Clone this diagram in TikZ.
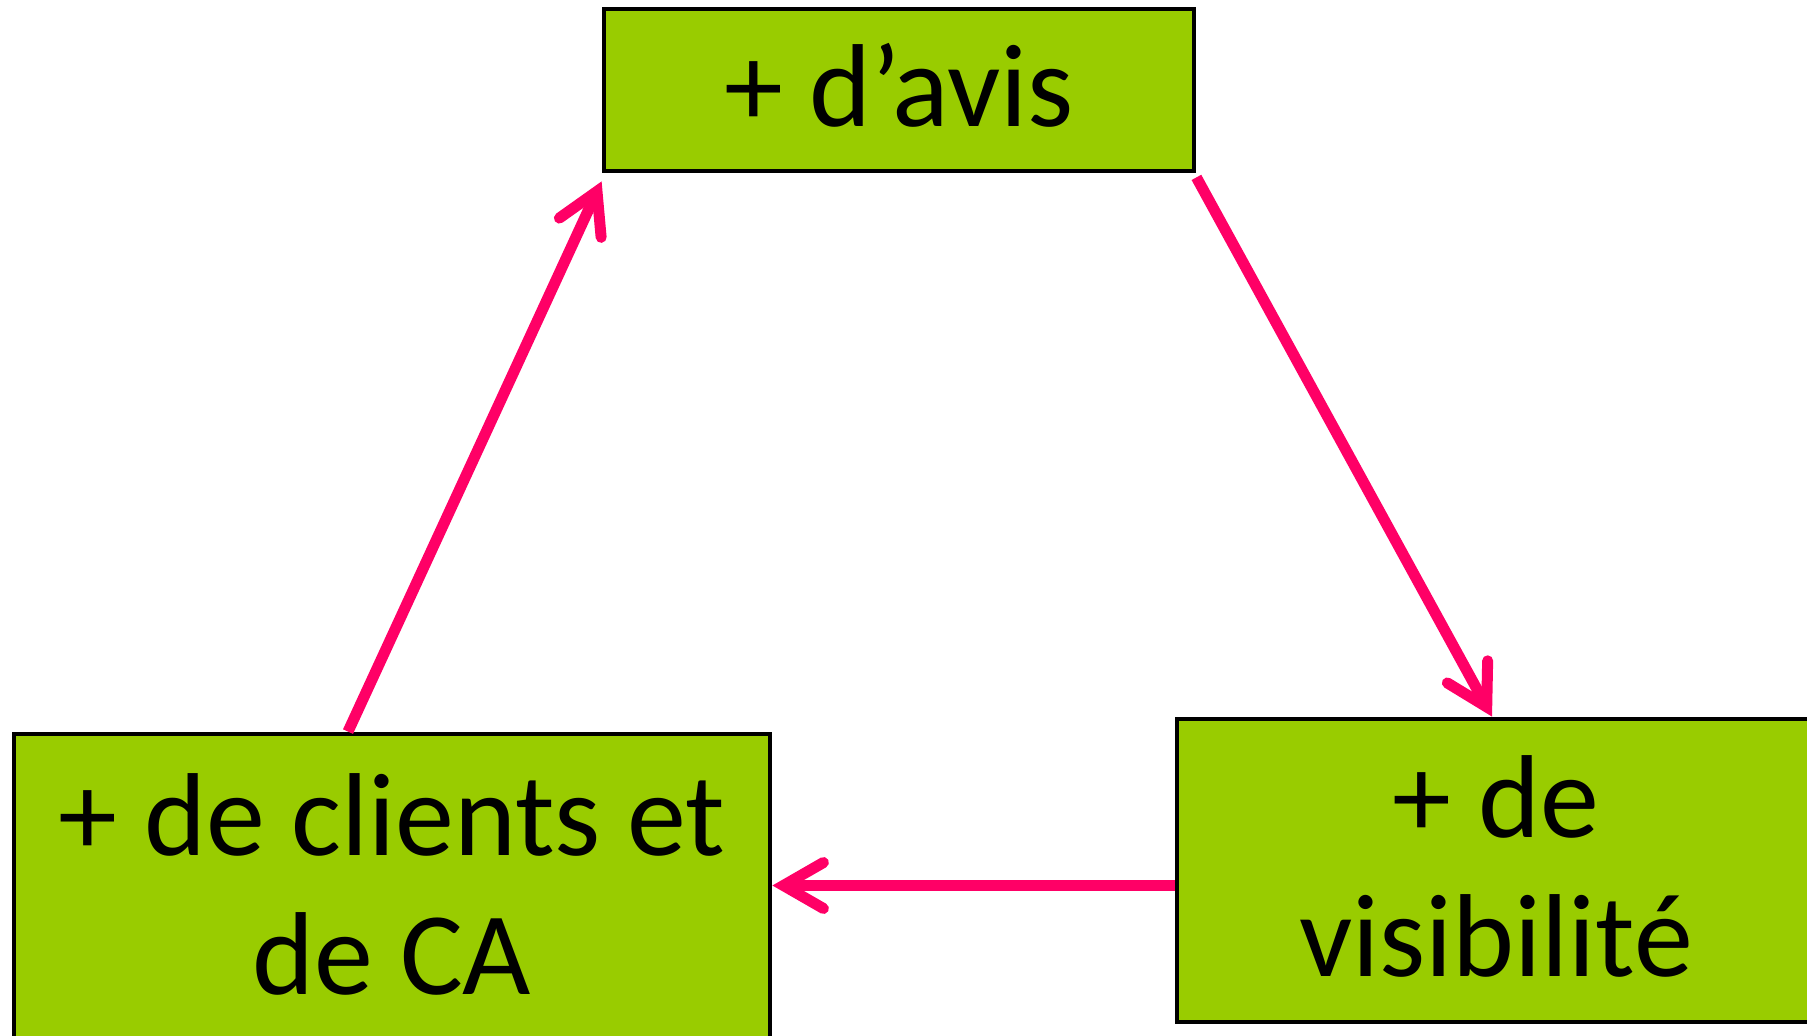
\documentclass[tikz,border=0pt]{standalone}
\usepackage{fontspec}
\setmainfont{Carlito}
\usetikzlibrary{arrows.meta}
\definecolor{vert}{RGB}{153,204,0}
\definecolor{rose}{RGB}{255,0,102}
\begin{document}
\begin{tikzpicture}[x=.5pt, y=-.5pt, >={Straight Barb[length=20pt,width=23pt,line cap=round]},
    boite/.style={draw, line width=2.4pt, fill=vert, align=center, font=\fontsize{59}{69.5}\selectfont, inner sep=0pt},
    fleche/.style={->, draw=rose, line width=5.5pt}]
    \useasboundingbox (0,0) rectangle (1807,1036);
    \clip (0,0) rectangle (1807,1036);
    \node[boite, minimum width=295pt, minimum height=81pt, text depth=5pt](avis) at (899,90){+ d’avis};
    \node[boite, minimum width=378pt, minimum height=165pt, text depth=15pt](clients) at (392,899){+ de clients et\\ de CA};
    \node[boite, minimum width=319pt, minimum height=151.5pt, text depth=4pt](visib) at (1496,870.5){+ de\\ visibilité};
\draw[fleche]([xshift=-22pt]clients.north)--([yshift=-4pt]avis.south west);
\draw[fleche]([yshift=-2pt]avis.south east)--([xshift=-2pt]visib.north);
\draw[fleche]([yshift=-7.5pt]visib.west)--([yshift=6.75pt]clients.east);

\end{tikzpicture}
\end{document}
